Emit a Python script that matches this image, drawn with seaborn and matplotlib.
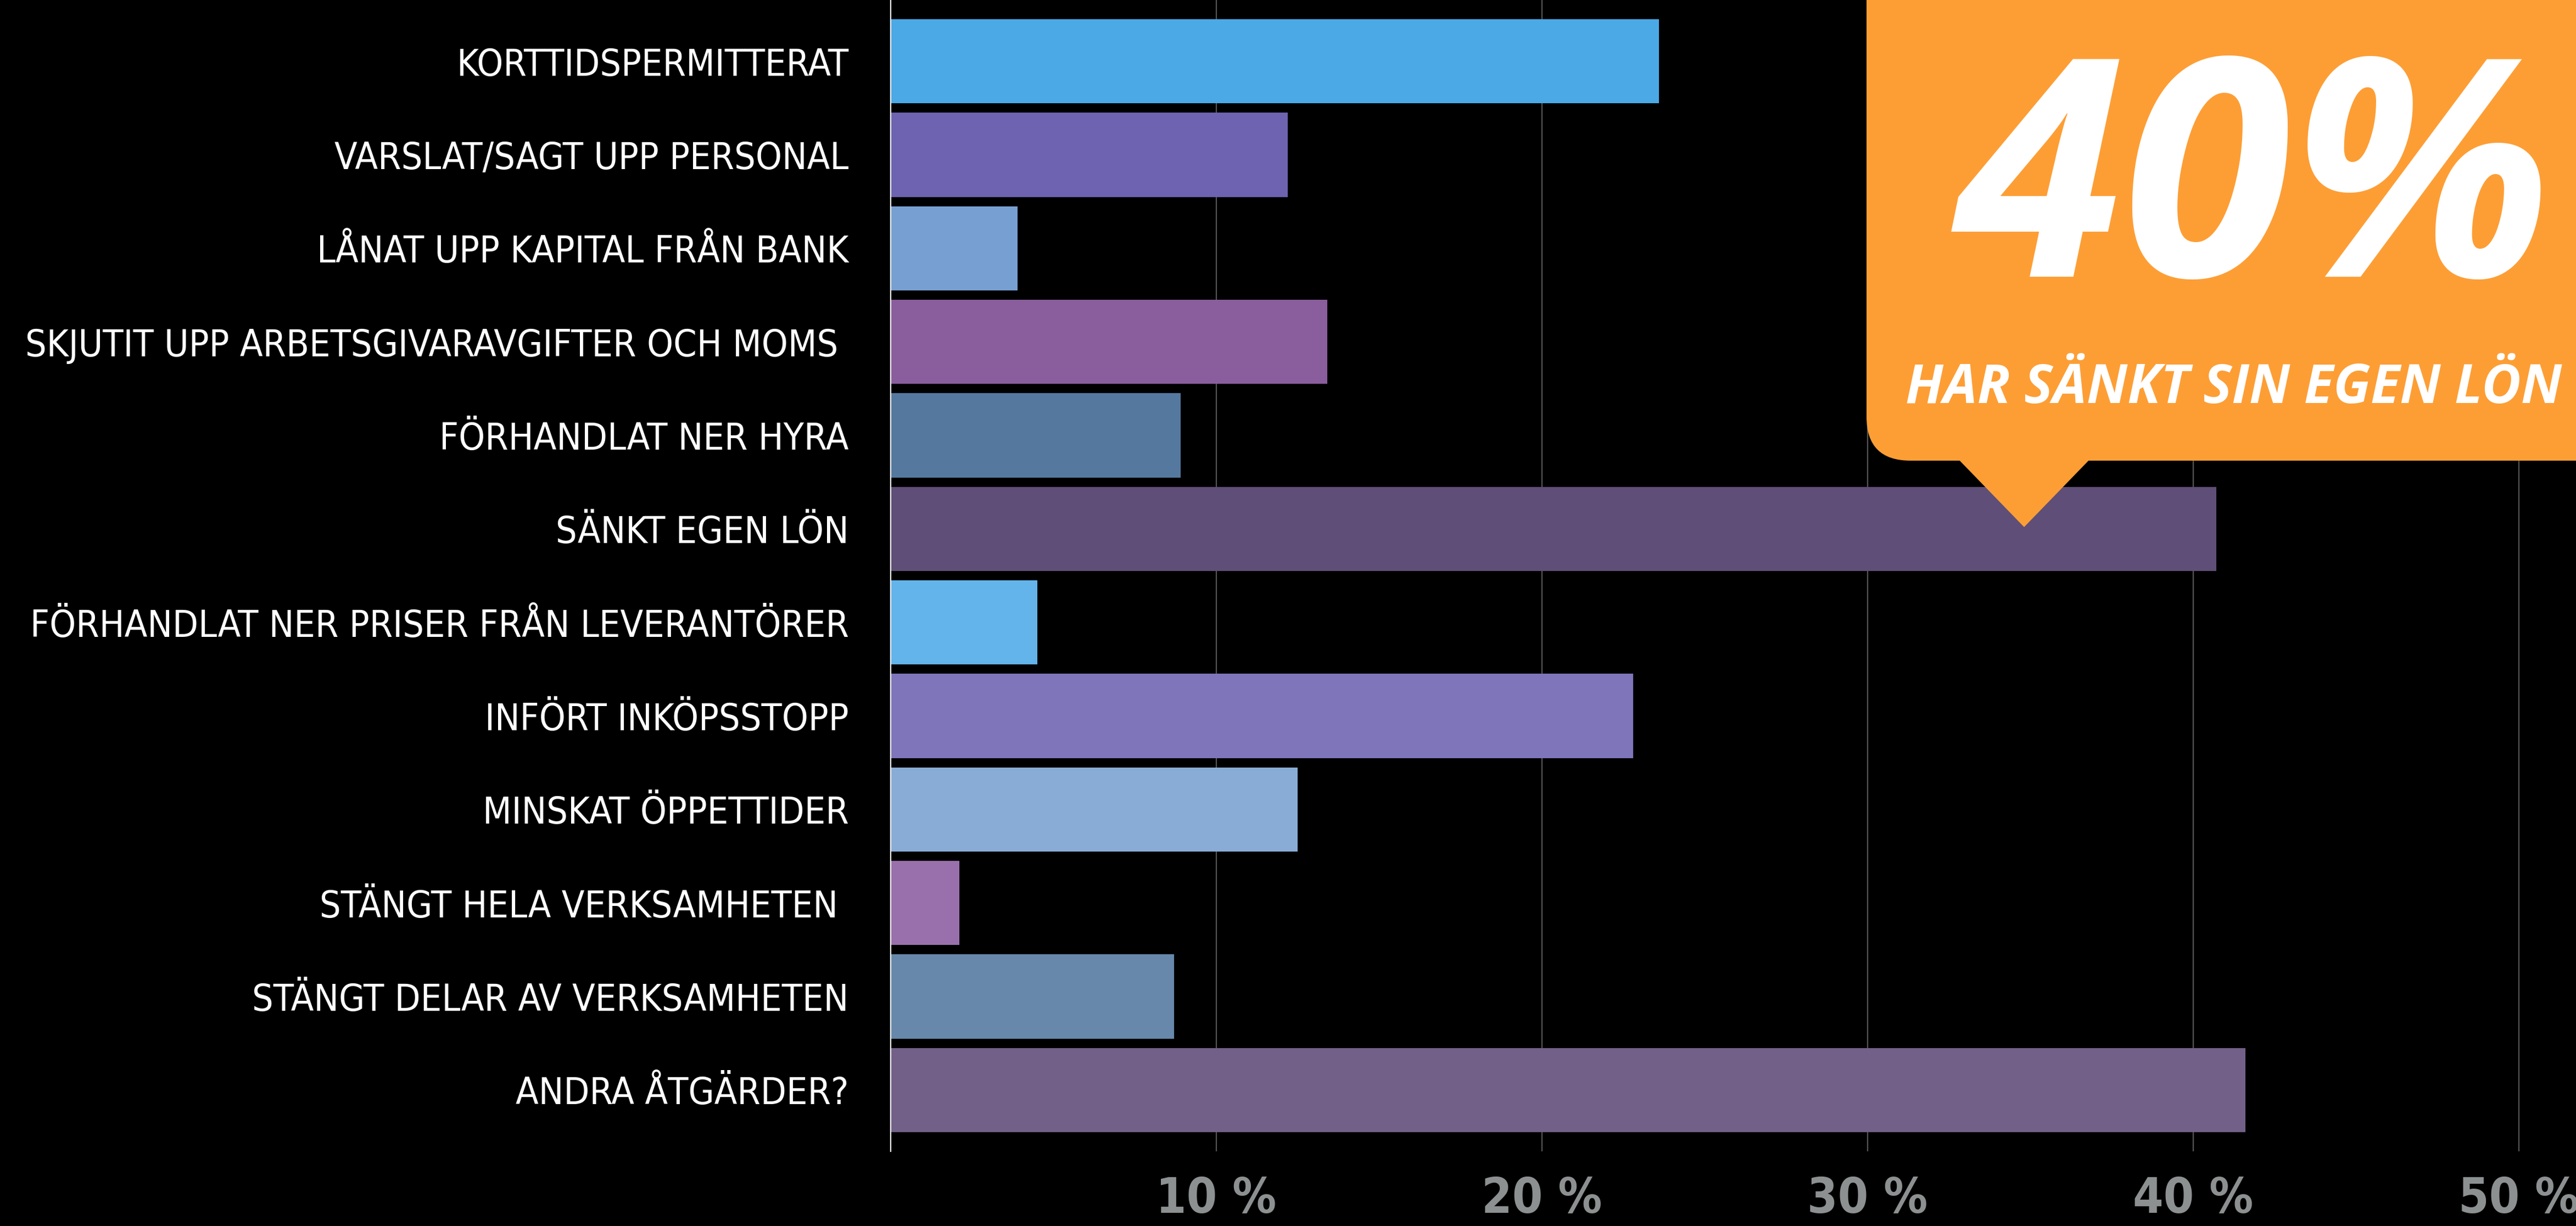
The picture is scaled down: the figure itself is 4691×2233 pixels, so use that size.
import matplotlib
matplotlib.use("Agg")
import matplotlib.pyplot as plt
import seaborn as sns
import pandas as pd
from matplotlib import font_manager as fm
from matplotlib.patches import FancyBboxPatch, Polygon

# ---- data ----
categories = [
    "KORTTIDSPERMITTERAT",
    "VARSLAT/SAGT UPP PERSONAL",
    "LÅNAT UPP KAPITAL FRÅN BANK",
    "SKJUTIT UPP ARBETSGIVARAVGIFTER OCH MOMS ",
    "FÖRHANDLAT NER HYRA",
    "SÄNKT EGEN LÖN",
    "FÖRHANDLAT NER PRISER FRÅN LEVERANTÖRER",
    "INFÖRT INKÖPSSTOPP",
    "MINSKAT ÖPPETTIDER",
    "STÄNGT HELA VERKSAMHETEN ",
    "STÄNGT DELAR AV VERKSAMHETEN",
    "ANDRA ÅTGÄRDER?",
]
values = [23.6, 12.2, 3.9, 13.4, 8.9, 40.7, 4.5, 22.8, 12.5, 2.1, 8.7, 41.6]
bar_colors = ["#4BA9E6", "#6D63B0", "#779FD2", "#8A5E9C", "#55789E", "#5F4E77",
              "#63B4EB", "#7E75BB", "#88ACD6", "#9A70AC", "#6788AB", "#726089"]
xticks = [10, 20, 30, 40, 50]
xtick_labels = ["10 %", "20 %", "30 %", "40 %", "50 %"]
callout_big = "40%"
callout_small = "HAR SÄNKT SIN EGEN LÖN"

# ---- fonts ----
names = {f.name for f in fm.fontManager.ttflist}
narrow = "Liberation Sans Narrow" if "Liberation Sans Narrow" in names else "DejaVu Sans"
callout_font = "Open Sans" if "Open Sans" in names else "DejaVu Sans"

sns.set_theme(style="dark")
plt.rcParams["font.family"] = [narrow, "DejaVu Sans"]

W, H, DPI = 4691, 2233, 100
fig = plt.figure(figsize=(W / DPI, H / DPI), dpi=DPI, facecolor="black")
ax = fig.add_axes([1622 / W, 136 / H, (W - 1622) / W, 2097 / H])
ax.set_facecolor("black")

df = pd.DataFrame({"cat": categories, "val": values})
sns.barplot(data=df, x="val", y="cat", hue="cat", palette=bar_colors, legend=False,
            orient="h", width=0.9, saturation=1, linewidth=0, ax=ax)

ax.set_xlim(0, (W - 1622) / 59.3)
ax.set_ylim(len(categories) - 1 + 0.655, -0.655)
ax.set_xlabel("")
ax.set_ylabel("")
ax.set_xticks(xticks)
ax.set_xticklabels(xtick_labels)
ax.set_axisbelow(True)
ax.grid(False)
ax.xaxis.grid(True, color="#555555", linewidth=1.6)
for s in ["top", "right", "bottom"]:
    ax.spines[s].set_visible(False)
ax.spines["left"].set_visible(True)
ax.spines["left"].set_color("white")
ax.spines["left"].set_linewidth(1.6)
ax.tick_params(axis="both", length=0)

renderer = fig.canvas.get_renderer()


def fit_size(text, target_px, **kw):
    probe = fig.text(0, 0, text, fontsize=100, **kw)
    w = probe.get_window_extent(renderer).width
    probe.remove()
    return 100 * target_px / w


label_size = fit_size(max(categories, key=len), 1500,
                      family=[narrow, "DejaVu Sans"], fontstretch="condensed")

for lab in ax.get_yticklabels():
    lab.set_fontsize(label_size)
    lab.set_color("white")
    lab.set_family([narrow, "DejaVu Sans"])
    lab.set_fontstretch("condensed")
ax.tick_params(axis="y", pad=55)

for lab in ax.get_xticklabels():
    lab.set_fontsize(64)
    lab.set_color("#8C9091")
    lab.set_fontweight("bold")
    lab.set_family([narrow, "DejaVu Sans"])
    lab.set_fontstretch("condensed")
ax.tick_params(axis="x", pad=32)

# ---- callout overlay (pixel coordinates) ----
ov = fig.add_axes([0, 0, 1, 1], facecolor="none")
ov.set_xlim(0, W)
ov.set_ylim(0, H)
ov.axis("off")
orange = "#FD9E35"
box = FancyBboxPatch((3399, H - 839), 1600, 1000,
                     boxstyle="round,pad=0,rounding_size=80",
                     facecolor=orange, edgecolor="none")
ov.add_patch(box)
tri = Polygon([(3560, H - 830), (3812, H - 830), (3686, H - 960)], closed=True,
              facecolor=orange, edgecolor="none")
ov.add_patch(tri)
ov.text(3560, H - 504, callout_big, color="white", fontsize=400, fontweight="bold",
        fontstyle="italic", family=[callout_font, "DejaVu Sans"],
        ha="left", va="baseline")
small_size = min(72, fit_size(callout_small, W - 3470 - 25, fontweight="bold",
                              fontstyle="italic", family=[callout_font, "DejaVu Sans"]))
ov.text(3470, H - 734, callout_small, color="white", fontsize=small_size,
        fontweight="bold", fontstyle="italic", family=[callout_font, "DejaVu Sans"],
        ha="left", va="baseline")

fig.savefig("out.png", dpi=DPI, facecolor="black")
